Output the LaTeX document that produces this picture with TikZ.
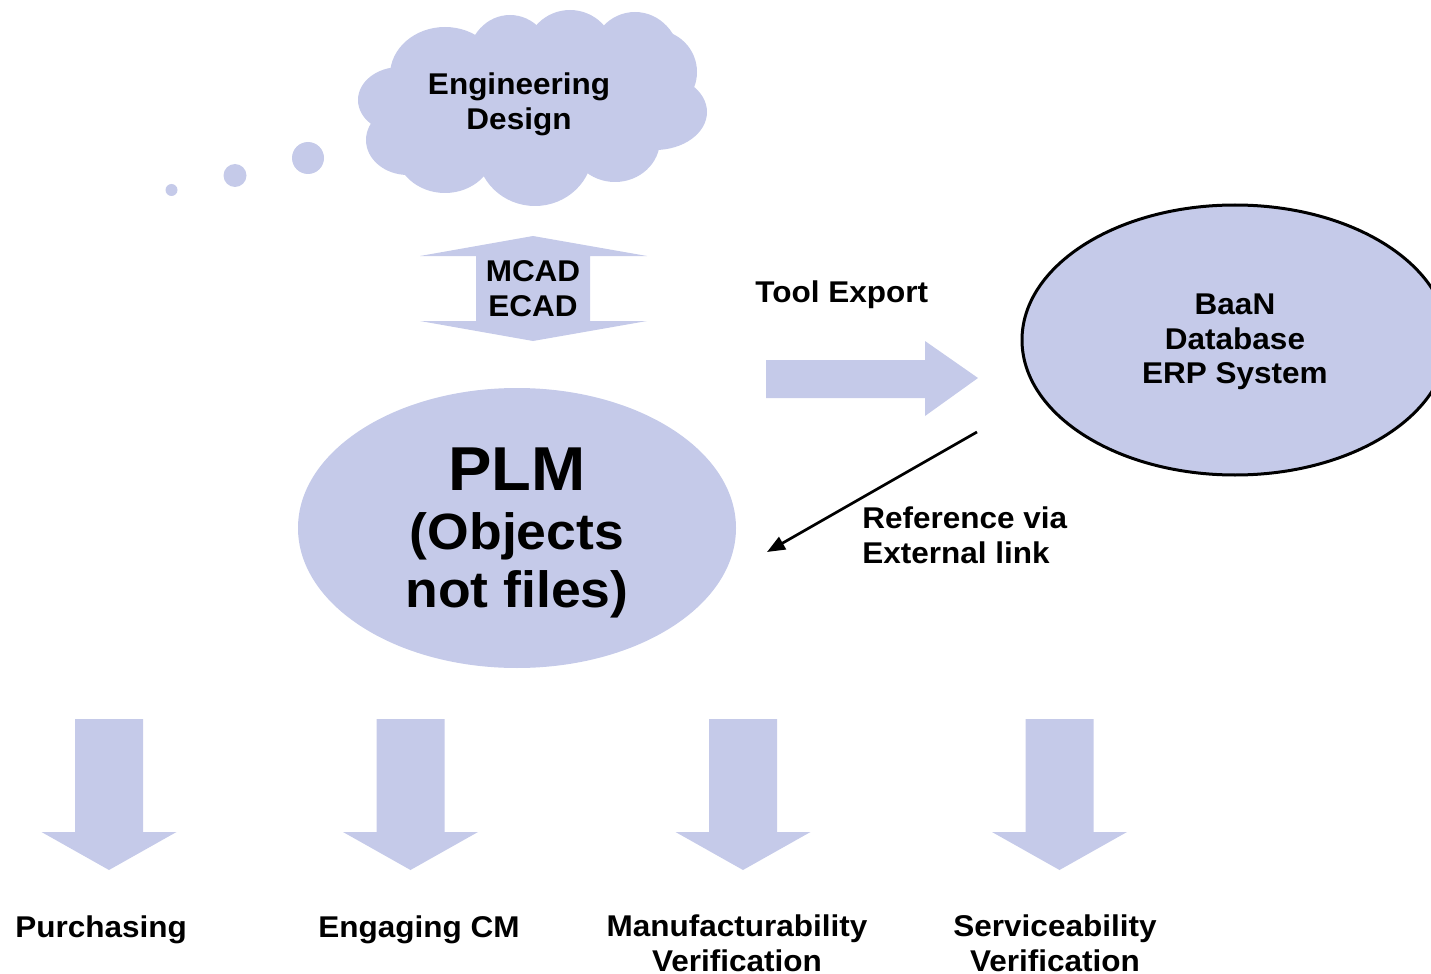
\documentclass[tikz,border=0pt]{standalone}
\usepackage{fontspec}
\setmainfont{Liberation Sans}[FakeStretch=1.05]
\usetikzlibrary{arrows.meta,shapes.geometric}
\definecolor{lav}{RGB}{197,202,233}
\begin{document}
\begin{tikzpicture}[x=0.5pt,y=-0.5pt,
  lbl/.style={inner sep=0pt, font=\bfseries\fontsize{15}{17.5}\selectfont, align=center},
  blockarrow/.style={fill=lav, draw=none},
  puff/.style={fill=lav, draw=none},
  linkarrow/.style={draw=black, line width=1.35pt, -{Triangle[length=9pt,width=7pt]}},
]
\useasboundingbox (0,0) rectangle (1431,974);
\clip (0,0) rectangle (1431,974);

% thought cloud
\path[puff] (445,75) ellipse [x radius=55, y radius=48];
\path[puff] (510,60) ellipse [x radius=42, y radius=45];
\path[puff] (570,55) ellipse [x radius=45, y radius=45];
\path[puff] (635,60) ellipse [x radius=45, y radius=48];
\path[puff] (655,72) ellipse [x radius=42, y radius=42];
\path[puff] (655,112) ellipse [x radius=52, y radius=38];
\path[puff] (615,140) ellipse [x radius=45, y radius=42];
\path[puff] (535,150) ellipse [x radius=58, y radius=56];
\path[puff] (445,148) ellipse [x radius=50, y radius=45];
\path[puff] (408,140) ellipse [x radius=42, y radius=35];
\path[puff] (400,100) ellipse [x radius=42, y radius=33];
\path[puff] (530,100) ellipse [x radius=140, y radius=70];
\path[puff] (171.5,190) circle [radius=6];
\path[puff] (235,175.5) circle [radius=11.5];
\path[puff] (308,158) circle [radius=16];
\node[lbl] (eng) at (519,104.5) {Engineering\\Design};

% MCAD / ECAD double arrow
\path[blockarrow] (533,236) -- (647,256) -- (590,256) -- (590,321) -- (647,321)
  -- (533,341) -- (420,321) -- (476,321) -- (476,256) -- (420,256) -- cycle;
\node[lbl] (cad) at (533,289) {MCAD\\ECAD};

% PLM
\node[ellipse, fill=lav, minimum width=219pt, minimum height=140pt, inner sep=0pt] (plm) at (517,528) {};
\node[inner sep=0pt, align=center, font=\bfseries\fontsize{25.5}{29}\selectfont] (plmtxt) at (517,532.5)
  {{\fontsize{31}{30}\selectfont PLM}\\[0.5pt](Objects\\not files)};

% Tool export
\node[lbl, anchor=base west] (tool) at (755,302) {Tool Export};
\path[blockarrow] (766,360) -- (925,360) -- (925,341) -- (978,378) -- (925,416)
  -- (925,398) -- (766,398) -- cycle;

% BaaN
\node[ellipse, fill=lav, draw=black, line width=1.5pt, minimum width=213pt,
  minimum height=135pt, inner sep=0pt] (baan) at (1235,340) {};
\node[lbl, font=\bfseries\fontsize{15}{17.25}\selectfont] (baantxt) at (1235,342)
  {BaaN\\Database\\ERP System};

% reference link
\coordinate (rs) at (977,432);
\coordinate (re) at (767,552);
\draw[linkarrow] (rs) -- (re);
\node[lbl, align=left, anchor=west] (ref) at (862,535.5) {Reference via\\External link};

% down arrows
\foreach \cx in {109,410.5,743,1059.5}{
  \path[blockarrow] ({\cx-34},719) -- ({\cx+34},719) -- ({\cx+34},832) -- ({\cx+67.5},832)
    -- (\cx,870) -- ({\cx-67.5},832) -- ({\cx-34},832) -- cycle;
}
\node[lbl, anchor=base west] (purch) at (15,937) {Purchasing};
\node[lbl, anchor=base west] (cm) at (318,937) {Engaging CM};
\node[lbl] (manu) at (737,943.5) {Manufacturability\\Verification};
\node[lbl] (serv) at (1055,943.5) {Serviceability\\Verification};
\end{tikzpicture}
\end{document}
